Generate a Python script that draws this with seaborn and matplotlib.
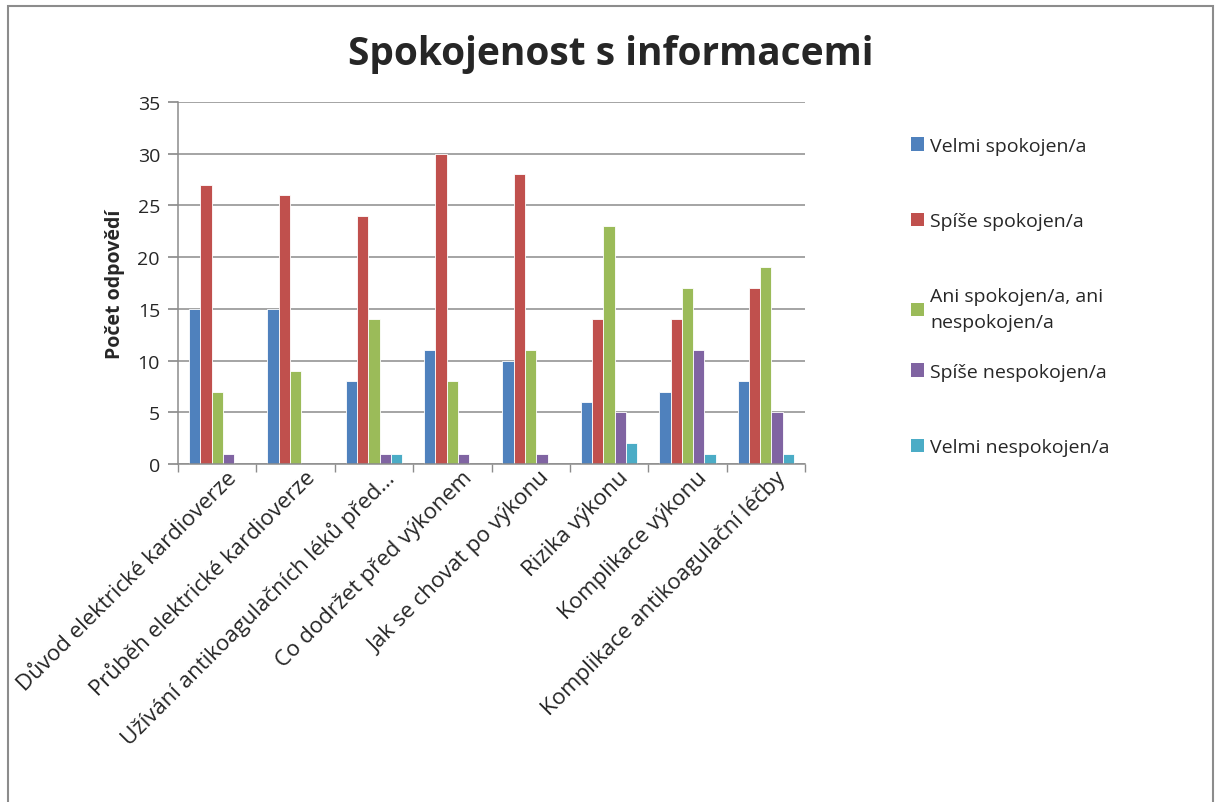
import matplotlib
matplotlib.use("Agg")
import matplotlib.pyplot as plt
import matplotlib.transforms as mtransforms
import seaborn as sns
import pandas as pd
from matplotlib.patches import Rectangle, Patch

categories = [
    "Důvod elektrické kardioverze",
    "Průběh elektrické kardioverze",
    "Užívání antikoagulačních léků před…",
    "Co dodržet před výkonem",
    "Jak se chovat po výkonu",
    "Rizika výkonu",
    "Komplikace výkonu",
    "Komplikace antikoagulační léčby",
]
series_names = [
    "Velmi spokojen/a",
    "Spíše spokojen/a",
    "Ani spokojen/a, ani\nnespokojen/a",
    "Spíše nespokojen/a",
    "Velmi nespokojen/a",
]
velmi_spokojen = [15, 15, 8, 11, 10, 6, 7, 8]
spise_spokojen = [27, 26, 24, 30, 28, 14, 14, 17]
ani_ani = [7, 9, 14, 8, 11, 23, 17, 19]
spise_nespokojen = [1, 0, 1, 1, 1, 5, 11, 5]
velmi_nespokojen = [0, 0, 1, 0, 0, 2, 1, 1]
colors = ["#4F81BD", "#C0504D", "#9BBB59", "#8064A2", "#4BACC6"]

series_values = [velmi_spokojen, spise_spokojen, ani_ani, spise_nespokojen, velmi_nespokojen]
rows = []
for name, vals in zip(series_names, series_values):
    for cat, v in zip(categories, vals):
        rows.append({"cat": cat, "series": name, "value": v})
df = pd.DataFrame(rows)

sns.set_theme(style="white")
plt.rcParams["font.family"] = ["Open Sans", "DejaVu Sans"]

fig = plt.figure(figsize=(12.21, 8.03), dpi=100)
ax = fig.add_axes([178/1221, 1-465/803, (805-178)/1221, (465-103)/803])

sns.barplot(data=df, x="cat", y="value", hue="series", order=categories,
            hue_order=series_names, palette=colors, saturation=1, width=0.72, gap=0,
            ax=ax, legend=False, edgecolor="white", linewidth=0.6)

ax.set_ylim(0, 35)
ax.set_xlim(-0.5, len(categories) - 0.5)
ax.set_yticks(range(0, 36, 5))
ax.yaxis.grid(True, color="#8c8c8c", linewidth=1.1)
ax.set_axisbelow(True)
for s in ["top", "right"]:
    ax.spines[s].set_visible(False)
for s in ["left", "bottom"]:
    ax.spines[s].set_color("#8c8c8c")
    ax.spines[s].set_linewidth(1.1)

ax.set_xlabel("")
ax.set_ylabel("Počet odpovědí", fontsize=14, fontweight="bold", labelpad=9)
ax.tick_params(axis="y", labelsize=14, length=7, color="#8c8c8c", direction="out", left=True, pad=6)
ax.set_xticks(range(len(categories)))
ax.set_xticks([i - 0.5 for i in range(len(categories) + 1)], minor=True)
ax.tick_params(axis="x", which="major", length=0, pad=2)
ax.tick_params(axis="x", which="minor", length=6, color="#8c8c8c", direction="out", bottom=True)
ax.set_xticklabels(categories, rotation=45, ha="right", va="top",
                   rotation_mode="anchor", fontsize=16)
offset = mtransforms.ScaledTranslation(9/100, 0, fig.dpi_scale_trans)
for lbl in ax.get_xticklabels():
    lbl.set_transform(lbl.get_transform() + offset)

handles = [Patch(facecolor=c, edgecolor="none") for c in colors]
leg_kw = dict(loc="upper left", frameon=False, fontsize=14, handlelength=0.7,
              handleheight=0.7, handletextpad=0.3, labelspacing=2.95, borderaxespad=0)
leg1 = fig.legend(handles[:3], series_names[:3], bbox_to_anchor=(903/1221, 1-130/803), **leg_kw)
for t in leg1.get_texts():
    t.set_linespacing(1.55)
leg2 = fig.legend(handles[3:], series_names[3:], bbox_to_anchor=(903/1221, 1-356/803), **leg_kw)

fig.text(0.5, 1-55/803, "Spokojenost s informacemi", ha="center", va="center",
         fontsize=28, fontweight="bold")

fig.add_artist(Rectangle((8/1221, -0.01), (1213-8)/1221, 1.0 + 0.01 - 7/803,
                         transform=fig.transFigure, fill=False,
                         edgecolor="#8c8c8c", linewidth=1.5))

fig.savefig("out.png", dpi=100)
